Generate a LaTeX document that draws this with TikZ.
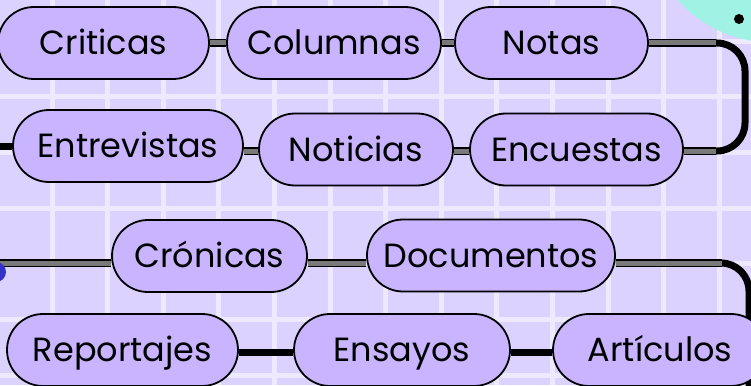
\documentclass[tikz,border=0pt]{standalone}
\usepackage{fontspec}
\setmainfont{Poppins}
\definecolor{bgc}{RGB}{220,210,255}
\definecolor{gridc}{RGB}{238,233,255}
\definecolor{pillc}{RGB}{200,180,255}
\definecolor{tealc}{RGB}{160,242,228}
\definecolor{bluec}{RGB}{50,50,200}
\pgfdeclarelayer{bg}
\pgfdeclarelayer{lines}
\pgfsetlayers{bg,lines,main}
\tikzset{
  pill/.style={draw=black, line width=1.8pt, fill=pillc, rounded corners=36pt,
    minimum height=72pt, inner sep=0pt, font=\fontsize{33.5}{38}\selectfont, text=black,
    text height=23.5pt, text depth=0pt},
  conngray/.style={draw=gray!95!black, line width=5pt, preaction={draw=black, line width=7.5pt}},
  connblack/.style={draw=black, line width=7pt},
  gridline/.style={draw=gridc, line width=5pt}
}
\begin{document}
\begin{tikzpicture}[x=1pt,y=-1pt]
\useasboundingbox (0,0) rectangle (751,385);
% nodes
\node[pill, minimum width=211pt] (criticas) at (103.5,43) {Criticas};
\node[pill, minimum width=214pt] (columnas) at (334,43) {Columnas};
\node[pill, minimum width=193pt] (notas) at (551.5,43) {Notas};
\node[pill, minimum width=230pt] (entrevistas) at (128,146) {Entrevistas};
\node[pill, minimum width=194pt] (noticias) at (356,149.5) {Noticias};
\node[pill, minimum width=213pt] (encuestas) at (576.5,149.5) {Encuestas};
\node[pill, minimum width=195pt] (cronicas) at (209.5,256) {Crónicas};
\node[pill, minimum width=248pt] (documentos) at (491,255.5) {Documentos};
\node[pill, minimum width=231pt] (reportajes) at (122.5,350) {Reportajes};
\node[pill, minimum width=216pt] (ensayos) at (402,350) {Ensayos};
\node[pill, minimum width=214pt] (articulos) at (660,350) {Artículos};
\coordinate (leftA) at (0,146);
\coordinate (rowB) at (0,151);
\coordinate (leftB) at (0,263);
\coordinate (rowD) at (0,352);
\coordinate (turnA) at (745,43);
\coordinate (turnB) at (745,151);
\coordinate (turnC) at (749,263);
\coordinate (turnD) at (749,420);
\coordinate (endA) at (716,43);
\coordinate (endB) at (716,151);
\coordinate (endC) at (722,263);
\begin{pgfonlayer}{bg}
  \fill[bgc] (0,0) rectangle (751,385);
  \foreach \k in {0,...,12} { \draw[gridline] ({52+55.6*\k},0) -- ({52+55.6*\k},385); }
  \foreach \k in {0,...,6} { \draw[gridline] (0,{41.4+55.6*\k}) -- (751,{41.4+55.6*\k}); }
  \fill[tealc] (770,-80) circle[radius=122];
  \fill[black] (739,19) circle[radius=5];
\end{pgfonlayer}
\begin{pgfonlayer}{lines}
  % row 1
  \draw[conngray] (criticas.east) -- (columnas.west);
  \draw[conngray] (columnas.east) -- (notas.west);
  \draw[connblack, rounded corners=28pt] (notas.east) -- (turnA) -- (turnB) -- (turnB -| encuestas.east);
  \draw[conngray] (notas.east) -- (endA);
  \draw[conngray] (turnB -| encuestas.east) -- (endB);
  % row 2
  \draw[connblack] (leftA) -- (leftA -| entrevistas.west);
  \draw[conngray] (rowB -| entrevistas.east) -- (rowB -| noticias.west);
  \draw[conngray] (rowB -| noticias.east) -- (rowB -| encuestas.west);
  % row 3
  \draw[conngray] (leftB) -- (leftB -| cronicas.west);
  \draw[conngray] (leftB -| cronicas.east) -- (leftB -| documentos.west);
  \draw[connblack, rounded corners=28pt] (leftB -| documentos.east) -- (turnC) -- (turnD);
  \draw[conngray] (leftB -| documentos.east) -- (endC);
  \fill[bluec] (-4,272) circle[radius=10];
  % row 4
  \draw[connblack] (rowD -| reportajes.east) -- (rowD -| ensayos.west);
  \draw[connblack] (rowD -| ensayos.east) -- (rowD -| articulos.west);
\end{pgfonlayer}
\end{tikzpicture}
\end{document}
